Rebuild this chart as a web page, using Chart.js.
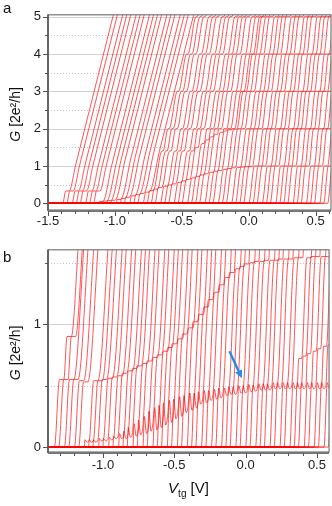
<!DOCTYPE html>
<html>
<head>
<meta charset="utf-8">
<script src="https://cdn.jsdelivr.net/npm/chart.js@4.4.0/dist/chart.umd.min.js"></script>
<style>
html, body { margin: 0; padding: 0; background: #fff; }
#wrap { position: relative; width: 332px; height: 506px; }
canvas { position: absolute; left: 0; }
#chartA { top: 0; width: 332px; height: 235px; }
#chartB { top: 235px; width: 332px; height: 271px; }
</style>
</head>
<body>
<div id="wrap">
  <canvas id="chartA" width="332" height="235"></canvas>
  <canvas id="chartB" width="332" height="271"></canvas>
</div>
<script>
const FONT = "'Liberation Sans', Arial, sans-serif";
const TRACE = 'rgba(255,0,0,0.9)';

// ---- panel a ----
const aXMajor = [-1.5, -1.0, -0.5, 0.0, 0.5];
const aXMinor = [-1.4, -1.3, -1.2, -1.1, -0.9, -0.8, -0.7, -0.6, -0.4, -0.3, -0.2, -0.1, 0.1, 0.2, 0.3, 0.4, 0.6];
const aYMajor = [0, 1, 2, 3, 4, 5];
const aYMinor = [0.5, 1.5, 2.5, 3.5, 4.5];
// V_tg where each trace leaves G = 0
const aStart = [-1.39, -1.36, -1.32, -1.29, -1.26, -1.22, -1.19, -1.16, -1.12, -1.09,
  -1.06, -1.03, -0.99, -0.96, -0.93, -0.89, -0.86, -0.83, -0.79, -0.76,
  -0.73, -0.70, -0.66, -0.63, -0.60, -0.56, -0.53, -0.50, -0.46, -0.43,
  -0.40, -0.37, -0.33, -0.30, -0.27, -0.23, -0.20, -0.17, -0.13, -0.10,
  -0.07, -0.04, 0.00, 0.03, 0.06, 0.10, 0.13, 0.16, 0.20, 0.23,
  0.26, 0.29, 0.33, 0.36, 0.39, 0.43, 0.46, 0.49, 0.53, 0.56, 0.59];
// first (lowest) plateau of each trace
const aLow = [0.33, 0.33, 0.33, 0.33, 0.33, 0.33, 0.33, 0.33, 0.05, 0.06,
  0.07, 0.08, 0.10, 0.13, 0.16, 0.20, 0.23, 0.26, 0.30, 0.34,
  0.38, 0.42, 0.46, 0.49, 0.52, 0.56, 0.60, 0.64, 0.68, 0.72,
  0.76, 0.79, 0.83, 0.86, 0.88, 0.91, 0.93, 0.95, 0.96, 0.97,
  0.98, 0.99, 1, 1, 1, 1, 1, 1, 1, 1,
  1, 1, 1, 1, 1, 1, 1, 1, 1, 1, 1];
// second plateau of each trace
const aMid = [1.0, 1.0, 1.0, 1.0, 1.0, 1.0, 1.0, 1.0, 1.05, 1.10,
  1.14, 1.18, 1.22, 1.26, 1.29, 1.32, 1.35, 1.37, 1.39, 1.40,
  1.40, 1.40, 1.40, 1.40, 1.40, 1.40, 1.40, 1.50, 1.60, 1.70,
  1.78, 1.85, 1.90, 1.94, 1.97, 1.99, 2, 2, 2, 2,
  2, 2, 2, 2, 2, 2, 2, 2, 2, 2,
  2, 2, 2, 2, 2, 2, 2, 2, 2, 2, 2];
// horizontal length of the plateau kinks of each trace [V] (0 = no kinks)
const aJog = [0, 0, 0, 0, 0, 0, 0, 0, 0, 0,
  0, 0, 0, 0, 0, 0, 0, 0, 0, 0.008,
  0.009, 0.010, 0.011, 0.012, 0.013, 0.014, 0.015, 0.016, 0.017, 0.018,
  0.019, 0.020, 0.021, 0.021, 0.022, 0.023, 0.023, 0.024, 0.025, 0.025,
  0.026, 0.027, 0.027, 0.028, 0.029, 0.029, 0.030, 0.031, 0.031, 0.032,
  0.033, 0.033, 0.034, 0.034, 0.035, 0.035, 0.035, 0.035, 0.035, 0.035, 0.035];
const aPlateaus = [2, 3, 4, 5];
const aShiftPerUnit = 0.07;

// ---- panel b ----
const bXMajor = [-1.0, -0.5, 0.0, 0.5];
const bXMinor = [-1.3, -1.2, -1.1, -0.9, -0.8, -0.7, -0.6, -0.4, -0.3, -0.2, -0.1, 0.1, 0.2, 0.3, 0.4];
const bYMajor = [0, 1];
const bYMinor = [0.5, 1.5];
const bStart = [-1.34, -1.31, -1.27, -1.24, -1.20, -1.17, -1.13, -1.10, -1.07, -1.03,
  -1.00, -0.96, -0.93, -0.89, -0.86, -0.83, -0.79, -0.76, -0.72, -0.69,
  -0.65, -0.62, -0.59, -0.55, -0.52, -0.48, -0.45, -0.41, -0.38, -0.35,
  -0.31, -0.28, -0.24, -0.21, -0.17, -0.14, -0.11, -0.07, -0.04, 0.00,
  0.03, 0.07, 0.10, 0.13, 0.17, 0.20, 0.24, 0.27, 0.31, 0.34,
  0.37, 0.41, 0.44, 0.48, 0.51, 0.55, 0.58];
const bLow = [0.55, 0.55, 0.55, 0.55, 0.54, 0.53, 0.05, 0.05, 0.05, 0.06,
  0.06, 0.07, 0.08, 0.09, 0.10, 0.12, 0.14, 0.16, 0.18, 0.21,
  0.23, 0.25, 0.27, 0.29, 0.31, 0.33, 0.35, 0.37, 0.38, 0.40,
  0.41, 0.42, 0.43, 0.44, 0.45, 0.46, 0.46, 0.47, 0.47, 0.48,
  0.48, 0.49, 0.49, 0.49, 0.50, 0.50, 0.50, 0.50, 0.50, 0.50,
  0.50, 0.50, 0.50, 0.50, 0.50, 0.50, 0.50];
// over/undershoot on the low plateau (the zig-zag band)
const bZig = [0, 0, 0, 0, 0, 0, 0.01, 0.01, 0.01, 0.01,
  0.01, 0.01, 0.01, 0.02, 0.03, 0.04, 0.05, 0.06, 0.07, 0.08,
  0.09, 0.09, 0.09, 0.09, 0.08, 0.08, 0.07, 0.07, 0.06, 0.05,
  0.05, 0.04, 0.04, 0.04, 0.03, 0.03, 0.03, 0.03, 0.03, 0.03,
  0.025, 0.025, 0.025, 0.025, 0.025, 0.025, 0.025, 0.025, 0.025, 0.025,
  0.025, 0.025, 0.025, 0.025, 0.025, 0.025, 0.025];
const bKnee = [0, 0, 0, 0, 0, 0, 0, 0, 0, 0,
  0, 0, 0, 0, 0, 0, 0, 0, 0, 0,
  0, 0, 0, 0, 0, 0, 0, 0, 0, 0,
  0, 0, 0, 0, 0, 0, 0, 0, 0, 0,
  0, 0, 0, 0, 0, 0, 0, 0, 0.72, 0.74,
  0.76, 0.78, 0.80, 0.82, 0.83, 0.85, 0.86];
const bMid = [0.90, 0.90, 0.55, 0.55, 0.55, 0.55, 0.54, 0.54, 0.55, 0.56,
  0.57, 0.58, 0.60, 0.62, 0.64, 0.66, 0.68, 0.70, 0.73, 0.75,
  0.78, 0.81, 0.84, 0.88, 0.92, 0.97, 1.02, 1.08, 1.14, 1.20,
  1.26, 1.32, 1.38, 1.42, 1.45, 1.47, 1.49, 1.50, 1.51, 1.51,
  1.52, 1.52, 1.52, 1.53, 1.53, 1.53, 1.54, 1.54, 1.54, 1.55,
  1.55, 1.55, 1.55, 1.56, 1.56, 1.56, 1.56];
// dV/dG of the steep parts of each trace
const bLean = [0.065, 0.065, 0.065, 0.065, 0.065, 0.065, 0.065, 0.065, 0.065, 0.065,
  0.064, 0.063, 0.062, 0.062, 0.061, 0.060, 0.059, 0.058, 0.058, 0.057,
  0.056, 0.055, 0.055, 0.054, 0.053, 0.053, 0.052, 0.051, 0.051, 0.050,
  0.050, 0.050, 0.049, 0.049, 0.049, 0.048, 0.048, 0.048, 0.048, 0.047,
  0.047, 0.047, 0.047, 0.046, 0.046, 0.046, 0.046, 0.046, 0.045, 0.045,
  0.045, 0.045, 0.045, 0.045, 0.045, 0.045, 0.045];
const bArrow = { from: [-0.113, 0.78], to: [-0.026, 0.56] };

// one trace: flat at G = 0, then steep rises separated by plateaus
const buildTrace = (x0, levels, lean, top) => {
  const pts = [{ x: -1.7, y: 0 }, { x: x0, y: 0 }];
  let x = x0, g = 0;
  levels.forEach(([level, width, zig]) => {
    if (level <= g + 0.02) return;
    x += lean * (level - g);
    if (zig) {
      pts.push({ x: x, y: level + zig });
      pts.push({ x: x + width * 0.5, y: level - zig });
    } else {
      pts.push({ x: x, y: level });
    }
    if (width > 0) {
      x += width;
      pts.push({ x: x, y: level });
    }
    g = level;
  });
  x += lean * (top - g);
  pts.push({ x: x, y: top });
  return pts;
};

const traceSet = (pts) => ({
  data: pts, borderColor: TRACE, borderWidth: 0.75, pointRadius: 0,
  showLine: true, cubicInterpolationMode: 'monotone', clip: 0, fill: false
});

const aSets = aStart.map((x0, i) => {
  const J = aJog[i];
  const levels = [[aLow[i], 0.025, 0], [aMid[i], J, 0]].concat(aPlateaus.map(p => [p, J, 0]));
  return traceSet(buildTrace(x0, levels, aShiftPerUnit - J, 5.4));
});

const bSets = bStart.map((x0, i) => {
  const levels = [[bLow[i], 0.03, bZig[i]], [bKnee[i], 0.02, 0], [bMid[i], 0.03, 0]];
  return traceSet(buildTrace(x0, levels, bLean[i], 1.7));
});

const line = (ctx, x1, y1, x2, y2) => {
  ctx.beginPath(); ctx.moveTo(x1, y1); ctx.lineTo(x2, y2); ctx.stroke();
};

const decor = {
  id: 'decor',
  beforeDatasetsDraw(chart, args, o) {
    const { ctx, chartArea: ca, scales: { x, y } } = chart;
    ctx.save();
    ctx.strokeStyle = '#d2d2d2';
    ctx.lineWidth = 1;
    o.yMajor.forEach(v => {
      if (v === 0) return;
      const py = Math.round(y.getPixelForValue(v)) + 0.5;
      line(ctx, ca.left, py, ca.right, py);
    });
    ctx.setLineDash([1, 2]);
    ctx.strokeStyle = '#c4c4c4';
    o.yMinor.forEach(v => {
      const py = Math.round(y.getPixelForValue(v)) + 0.5;
      line(ctx, ca.left, py, ca.right, py);
    });
    ctx.restore();
  },
  afterDraw(chart, args, o) {
    const { ctx, chartArea: ca, scales: { x, y } } = chart;
    ctx.save();
    // frame
    ctx.strokeStyle = '#777';
    ctx.lineWidth = 1.2;
    ctx.strokeRect(ca.left, ca.top, ca.right - ca.left, ca.bottom - ca.top);
    ctx.strokeStyle = '#555';
    ctx.lineWidth = 1.6;
    line(ctx, ca.left, ca.top, ca.left, ca.bottom + 1);
    ctx.strokeStyle = '#777';
    ctx.lineWidth = 2;
    line(ctx, ca.left, ca.bottom + 1, ca.right, ca.bottom + 1);
    // ticks
    ctx.strokeStyle = '#555';
    ctx.lineWidth = 1;
    o.xMajor.forEach(v => { const px = Math.round(x.getPixelForValue(v)) + 0.5; line(ctx, px, ca.bottom + 1, px, ca.bottom + 6); });
    o.xMinor.forEach(v => { const px = Math.round(x.getPixelForValue(v)) + 0.5; line(ctx, px, ca.bottom + 1, px, ca.bottom + 4); });
    o.yMajor.forEach(v => { const py = Math.round(y.getPixelForValue(v)) + 0.5; line(ctx, ca.left - 5, py, ca.left, py); });
    o.yMinor.forEach(v => { const py = Math.round(y.getPixelForValue(v)) + 0.5; line(ctx, ca.left - 3, py, ca.left, py); });
    // panel letter
    ctx.fillStyle = '#111';
    ctx.font = '15px ' + FONT;
    ctx.textAlign = 'left';
    ctx.textBaseline = 'alphabetic';
    ctx.fillText(o.letter, 3, o.letterY);
    // y title: G [2e²/h]
    ctx.save();
    ctx.translate(20, (ca.top + ca.bottom) / 2 + 2);
    ctx.rotate(-Math.PI / 2);
    const it = 'italic 14px ' + FONT, rm = '14px ' + FONT;
    ctx.font = it; const w1 = ctx.measureText('G ').width;
    ctx.font = rm; const w2 = ctx.measureText('[2e\u00b2/h]').width;
    const sx = -(w1 + w2) / 2;
    ctx.font = it; ctx.fillText('G ', sx, 0);
    ctx.font = rm; ctx.fillText('[2e\u00b2/h]', sx + w1, 0);
    ctx.restore();
    // x title
    if (o.xTitle) {
      const cx = (ca.left + ca.right) / 2;
      const by = o.xTitleY;
      ctx.font = 'italic 15px ' + FONT; const a1 = ctx.measureText('V').width;
      ctx.font = '10px ' + FONT; const a2 = ctx.measureText('tg').width;
      ctx.font = '15px ' + FONT; const a3 = ctx.measureText(' [V]').width;
      const sx2 = cx - (a1 + a2 + a3) / 2;
      ctx.font = 'italic 15px ' + FONT; ctx.fillText('V', sx2, by);
      ctx.font = '10px ' + FONT; ctx.fillText('tg', sx2 + a1, by + 4);
      ctx.font = '15px ' + FONT; ctx.fillText(' [V]', sx2 + a1 + a2, by);
    }
    // arrow
    if (o.arrow) {
      const x1 = x.getPixelForValue(o.arrow.from[0]), y1 = y.getPixelForValue(o.arrow.from[1]);
      const x2 = x.getPixelForValue(o.arrow.to[0]), y2 = y.getPixelForValue(o.arrow.to[1]);
      const ang = Math.atan2(y2 - y1, x2 - x1);
      const hl = 8, hw = 3.8;
      const bx = x2 - hl * Math.cos(ang), byy = y2 - hl * Math.sin(ang);
      ctx.strokeStyle = '#1e8cf0';
      ctx.fillStyle = '#1e8cf0';
      ctx.lineWidth = 2.4;
      line(ctx, x1, y1, bx, byy);
      ctx.beginPath();
      ctx.moveTo(x2, y2);
      ctx.lineTo(bx + hw * Math.sin(ang), byy - hw * Math.cos(ang));
      ctx.lineTo(bx - hw * Math.sin(ang), byy + hw * Math.cos(ang));
      ctx.closePath();
      ctx.fill();
    }
    ctx.restore();
  }
};

const makeChart = (id, sets, cfg) => new Chart(document.getElementById(id), {
  type: 'scatter',
  data: { datasets: sets },
  plugins: [decor],
  options: {
    responsive: false,
    animation: false,
    events: [],
    layout: { padding: { top: cfg.padTop, right: 1, left: 0, bottom: 0 } },
    plugins: { legend: { display: false }, tooltip: { enabled: false }, decor: cfg.decor },
    scales: {
      x: {
        type: 'linear', min: cfg.xMin, max: cfg.xMax,
        afterFit: s => { s.height = cfg.xHeight; },
        afterBuildTicks: s => { s.ticks = cfg.decor.xMajor.map(v => ({ value: v })); },
        grid: { display: false, drawTicks: false },
        border: { display: false },
        ticks: {
          autoSkip: false, maxRotation: 0, padding: cfg.xPad, color: '#222',
          font: { family: FONT, size: 13 },
          callback: v => Number(v).toFixed(1)
        }
      },
      y: {
        type: 'linear', min: cfg.yMin, max: cfg.yMax,
        afterFit: s => { s.width = 48; },
        afterBuildTicks: s => { s.ticks = cfg.decor.yMajor.map(v => ({ value: v })); },
        grid: { display: false, drawTicks: false },
        border: { display: false },
        ticks: {
          autoSkip: false, padding: 7, color: '#222',
          font: { family: FONT, size: 13 },
          callback: v => String(v)
        }
      }
    }
  }
});

makeChart('chartA', aSets, {
  padTop: 5, xHeight: 25, xPad: 4,
  xMin: -1.5, xMax: 0.615, yMin: -0.18, yMax: 5.05,
  decor: { letter: 'a', letterY: 13, xMajor: aXMajor, xMinor: aXMinor, yMajor: aYMajor, yMinor: aYMinor }
});

makeChart('chartB', bSets, {
  padTop: 13, xHeight: 54, xPad: 6,
  xMin: -1.385, xMax: 0.585, yMin: -0.04, yMax: 1.605,
  decor: { letter: 'b', letterY: 27, xMajor: bXMajor, xMinor: bXMinor, yMajor: bYMajor, yMinor: bYMinor,
    xTitle: true, xTitleY: 258, arrow: bArrow }
});
</script>
</body>
</html>
